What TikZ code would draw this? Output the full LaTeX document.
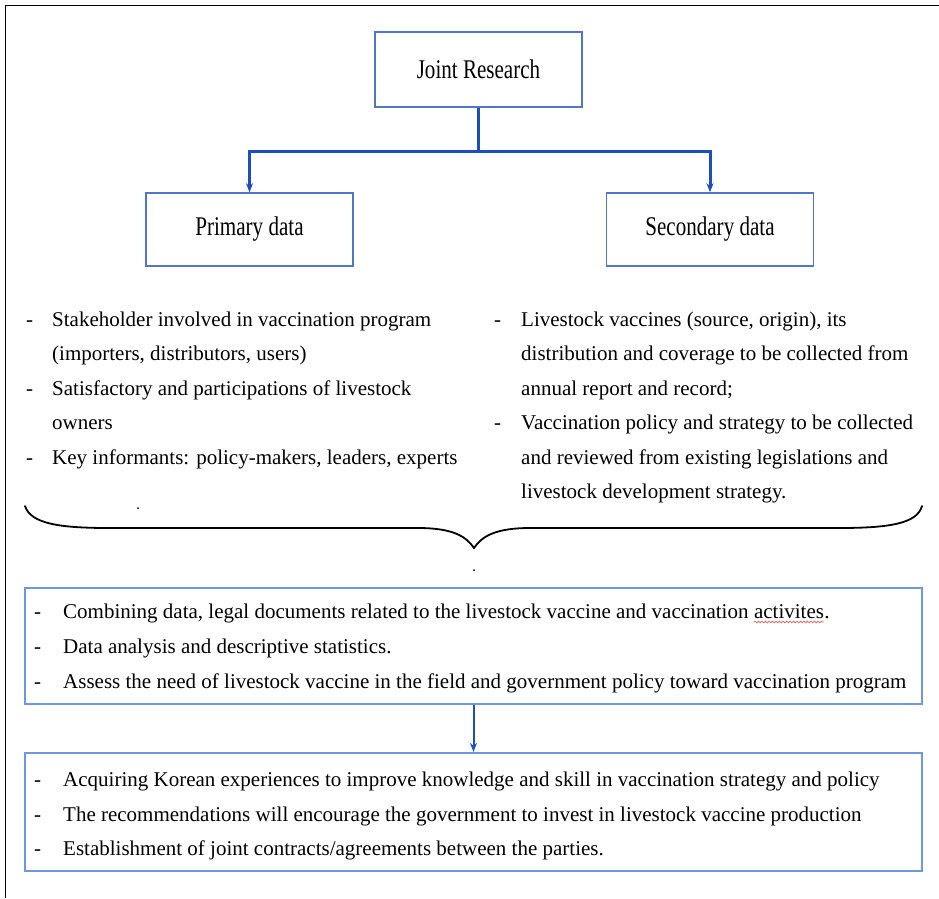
\documentclass[tikz,border=0pt]{standalone}
\usepackage{fontspec}
\setmainfont{Liberation Serif}
\newfontfamily\headfamily{Liberation Serif}[FakeStretch=0.78]
\usetikzlibrary{arrows.meta,decorations.pathmorphing}

\definecolor{boxblue}{RGB}{80,118,200}
\definecolor{boxlight}{RGB}{112,150,220}
\definecolor{linkblue}{RGB}{28,78,190}
\definecolor{squiggle}{RGB}{228,96,96}

\begin{document}
\begin{tikzpicture}[x=1pt,y=-1pt,
  headbox/.style={draw=boxblue, line width=1.6pt, minimum width=207pt,
    minimum height=75pt, inner sep=0pt,
    font=\headfamily\fontsize{27}{30}\selectfont},
  listbox/.style={draw=boxlight, line width=2.2pt, minimum width=897pt,
    inner sep=0pt},
  link/.style={draw=linkblue, line width=3pt},
  thinlink/.style={draw=linkblue, line width=2pt},
  tip/.style={-{Stealth[length=9pt,width=7pt]}},
  body/.style={anchor=base west, inner sep=0pt,
    font=\fontsize{21}{25}\selectfont},
  brace/.style={draw=black, line width=1.8pt, line cap=round},
  spell/.style={draw=squiggle, line width=0.7pt,
    decorate, decoration={snake, amplitude=0.9pt, segment length=3.5pt}},
]
\useasboundingbox (0,0) rectangle (939,898);

% page frame
\draw[line width=1pt] (5,898) -- (5,5) -- (939,5);

% header boxes
\node[headbox] (joint) at (478.5,69.5) {Joint Research};
\node[headbox, minimum height=73pt] (primary) at (249.5,229.5) {Primary data};
\node[headbox, minimum height=73pt] (secondary) at (710,229.5) {Secondary data};

% branching connector
\coordinate (fork) at (478.5,151);
\draw[link] (joint.south) -- (fork);
\draw[link, tip] (fork) -| (primary.north);
\draw[link, tip] (fork) -| (secondary.north);

% primary data items
\node[body] (pd1) at (26,326) {-};
\node[body] (p1) at (52,326) {Stakeholder involved in vaccination program};
\node[body] (p2) at (52,360.5) {(importers, distributors, users)};
\node[body] (pd2) at (26,395) {-};
\node[body] (p3) at (52,395) {Satisfactory and participations of livestock};
\node[body] (p4) at (52,429.5) {owners};
\node[body] (pd3) at (26,464) {-};
\node[body] (p5) at (52,464) {Key informants: policy-makers, leaders, experts};

% secondary data items
\node[body] (sd1) at (494,326) {-};
\node[body] (s1) at (521,326) {Livestock vaccines (source, origin), its};
\node[body] (s2) at (521,360.5) {distribution and coverage to be collected from};
\node[body] (s3) at (521,395) {annual report and record;};
\node[body] (sd2) at (494,429.5) {-};
\node[body] (s4) at (521,429.5) {Vaccination policy and strategy to be collected};
\node[body] (s5) at (521,464) {and reviewed from existing legislations and};
\node[body] (s6) at (521,498.5) {livestock development strategy.};

% stray marks
\fill (138,508) circle (1pt);
\fill (474,570) circle (1pt);

% curly brace gathering both columns
\draw[brace] (25,506) .. controls (31,524) and (60,528) .. (110,528)
  -- (418,528) .. controls (452,528) and (466,536) .. (474,548)
  .. controls (482,536) and (496,528) .. (530,528)
  -- (838,528) .. controls (888,528) and (917,524) .. (922,506);

% analysis box
\node[listbox, minimum height=116pt] (analysis) at (473.5,646) {};
\node[body] (ad1) at (34,618) {-};
\node[body] (a1) at (63,618) {Combining data, legal documents related to the livestock vaccine and vaccination};
\node[body] (a1w) at ([xshift=5.25pt]a1.base east) {activites};
\node[body] (a1p) at (a1w.base east) {.};
\draw[spell] ([yshift=-4pt]a1w.base west) -- ([yshift=-4pt]a1w.base east);
\node[body] (ad2) at (34,653) {-};
\node[body] (a2) at (63,653) {Data analysis and descriptive statistics.};
\node[body] (ad3) at (34,688) {-};
\node[body] (a3) at (63,688) {Assess the need of livestock vaccine in the field and government policy toward vaccination program};

% outcome box
\node[listbox, minimum height=118pt] (outcome) at (473.5,812) {};
\draw[thinlink, tip] (analysis.south) -- (outcome.north);
\node[body] (od1) at (34,786) {-};
\node[body] (o1) at (63,786) {Acquiring Korean experiences to improve knowledge and skill in vaccination strategy and policy};
\node[body] (od2) at (34,821) {-};
\node[body] (o2) at (63,821) {The recommendations will encourage the government to invest in livestock vaccine production};
\node[body] (od3) at (34,855) {-};
\node[body] (o3) at (63,855) {Establishment of joint contracts/agreements between the parties.};
\end{tikzpicture}
\end{document}
